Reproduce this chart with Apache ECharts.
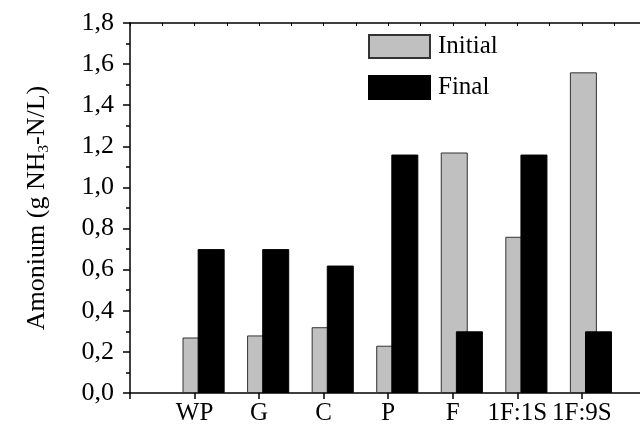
<!DOCTYPE html>
<html>
<head>
<meta charset="utf-8" />
<title>Amonium</title>
<script type="text/javascript" src="https://cdn.jsdelivr.net/npm/echarts@6/dist/echarts.min.js"></script>
</head>
<body style="margin:0;background-color:white;">
<div id="main" style="width:640px;height:426px;background-color:white;"></div>
<script type="text/javascript">
var categories = ['WP', 'G', 'C', 'P', 'F', '1F:1S', '1F:9S'];
var initialValues = [0.27, 0.28, 0.32, 0.23, 1.17, 0.76, 1.56];
var finalValues = [0.70, 0.70, 0.62, 1.16, 0.30, 1.16, 0.30];
var yTickLabels = ['0,0', '0,2', '0,4', '0,6', '0,8', '1,0', '1,2', '1,4', '1,6', '1,8'];

var serif = '"Liberation Serif", "Times New Roman", serif';

// category i sits at x = i + 1 on the value axis
function toPoints(values) {
    var arr = [];
    for (var i = 0; i < values.length; i++) {
        arr.push([i + 1, values[i]]);
    }
    return arr;
}

var myChart = echarts.init(document.getElementById('main'));
myChart.setOption({
    animation: false,
    grid: { left: 130, right: 0, top: 23, bottom: 33 },
    legend: {
        orient: 'vertical',
        left: 368,
        top: 34,
        icon: 'rect',
        itemWidth: 61,
        itemHeight: 23,
        itemGap: 16,
        padding: 0,
        data: ['Initial', 'Final'],
        textStyle: { fontFamily: serif, fontSize: 25, color: '#000', padding: [0, 0, 0, 3] }
    },
    xAxis: [
        {
            type: 'value',
            position: 'bottom',
            min: 0,
            max: 7.9,
            interval: 1,
            axisLine: { lineStyle: { color: '#000', width: 1.5 } },
            axisTick: { length: 6, lineStyle: { color: '#000', width: 1.5 } },
            axisLabel: {
                showMaxLabel: false,
                margin: 8,
                fontFamily: serif,
                fontSize: 25,
                color: '#000',
                formatter: function (v) {
                    return categories[v - 1] || '';
                }
            },
            splitLine: { show: false }
        },
        {
            type: 'value',
            position: 'top',
            min: 0,
            max: 7.9,
            interval: 0.5,
            axisLine: { show: true, lineStyle: { color: '#000', width: 1.5 } },
            axisTick: { inside: true, length: 3, lineStyle: { color: '#000' } },
            axisLabel: { show: false },
            splitLine: { show: false }
        },
        {
            // hidden axis that carries the bars, shifted a little right of the ticks
            type: 'value',
            min: -0.14,
            max: 7.76,
            show: false
        }
    ],
    yAxis: {
        type: 'value',
        min: 0,
        max: 1.8,
        interval: 0.2,
        name: '{n|Amonium (g NH}{sub|3}{n|-N/L)}',
        nameLocation: 'middle',
        nameRotate: 90,
        nameGap: 78,
        nameTextStyle: {
            rich: {
                n: { fontFamily: serif, fontSize: 26, color: '#000', lineHeight: 30 },
                sub: { fontFamily: serif, fontSize: 15, color: '#000', lineHeight: 30, verticalAlign: 'bottom' }
            }
        },
        axisLine: { show: true, lineStyle: { color: '#000', width: 1.5 } },
        axisTick: { show: true, length: 7, lineStyle: { color: '#000', width: 1.5 } },
        minorTick: { show: true, splitNumber: 2, length: 4, lineStyle: { color: '#000', width: 1.5 } },
        axisLabel: {
            margin: 16,
            fontFamily: serif,
            fontSize: 26,
            color: '#000',
            formatter: function (v) {
                return yTickLabels[Math.round(v / 0.2)];
            }
        },
        splitLine: { show: false }
    },
    series: [
        {
            name: 'Initial',
            type: 'bar',
            xAxisIndex: 2,
            barWidth: 27,
            barGap: '-44%',
            itemStyle: { color: '#c0c0c0', borderColor: '#333', borderWidth: 1 },
            data: toPoints(initialValues)
        },
        {
            name: 'Final',
            type: 'bar',
            xAxisIndex: 2,
            barWidth: 27,
            itemStyle: { color: '#000', borderColor: '#000', borderWidth: 1 },
            data: toPoints(finalValues)
        }
    ]
});
</script>
</body>
</html>
